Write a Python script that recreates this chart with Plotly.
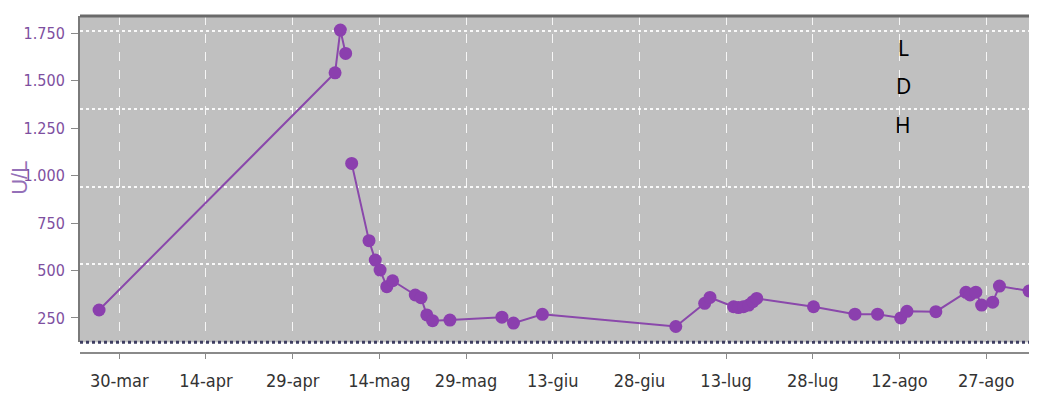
import plotly.graph_objects as go

# ---- data ----
ldh_dates = [
    "2019-03-26 12:00",
    "2019-05-06 08:00", "2019-05-07 06:00", "2019-05-08 04:00",
    "2019-05-09 05:00", "2019-05-12 05:00", "2019-05-13 07:00", "2019-05-14 03:00",
    "2019-05-15 07:00", "2019-05-16 07:00", "2019-05-20 05:00", "2019-05-21 05:00",
    "2019-05-22 05:00", "2019-05-23 05:00", "2019-05-26 05:00", "2019-06-04 05:00",
    "2019-06-06 05:00", "2019-06-11 05:00", "2019-07-04 07:00", "2019-07-09 07:00",
    "2019-07-10 05:00", "2019-07-14 07:00", "2019-07-15 03:00", "2019-07-16 00:00",
    "2019-07-16 22:00", "2019-07-17 15:00", "2019-07-18 07:00", "2019-07-28 03:00",
    "2019-08-04 07:00", "2019-08-08 05:00", "2019-08-12 05:00", "2019-08-13 07:00",
    "2019-08-18 07:00", "2019-08-23 12:00", "2019-08-24 05:00", "2019-08-25 05:00",
    "2019-08-26 05:00", "2019-08-28 03:00", "2019-08-29 07:00", "2019-09-03 10:00",
]
ldh_values = [
    292,
    1541, 1766, 1643,
    1064, 657, 555, 502,
    415, 446, 371, 357,
    266, 236, 239, 254,
    223, 269, 205, 327,
    358, 309, 305, 309,
    318, 336, 353, 309,
    270, 270, 250, 285,
    283, 385, 371, 386,
    318, 333, 418, 392,
]
line_breaks_after = ["2019-05-08 04:00"]

tick_dates = ["2019-03-30", "2019-04-14", "2019-04-29", "2019-05-14", "2019-05-29",
              "2019-06-13", "2019-06-28", "2019-07-13", "2019-07-28", "2019-08-12",
              "2019-08-27"]
tick_labels = ["30-mar", "14-apr", "29-apr", "14-mag", "29-mag", "13-giu",
               "28-giu", "13-lug", "28-lug", "12-ago", "27-ago"]
y_tick_vals = [250, 500, 750, 1000, 1250, 1500, 1750]
y_tick_text = ["250", "500", "750", "1.000", "1.250", "1.500", "1.750"]
y_grid_vals = [532, 942, 1352, 1762]
y_title = "U/L"
legend_letters = ["L", "D", "H"]

# ---- build ----
xs, ys = [], []
for d, v in zip(ldh_dates, ldh_values):
    xs.append(d)
    ys.append(v)
    if d in line_breaks_after:
        xs.append(None)
        ys.append(None)

purple = "#8b3fae"
narrow = "Liberation Sans Narrow, Arial Narrow, DejaVu Sans Condensed, sans-serif"

fig = go.Figure(go.Scatter(
    x=xs, y=ys, mode="lines+markers", connectgaps=False,
    line=dict(color="#8a48ab", width=2),
    marker=dict(size=13, color=purple),
    hoverinfo="x+y",
))

# page body has an 8px margin, so the figure is sized to fit the 1037x399 window
fig.update_layout(
    width=1029, height=391,
    margin=dict(l=72, r=0, t=8, b=46, pad=0, autoexpand=False),
    paper_bgcolor="white",
    plot_bgcolor="#c0c0c0",
    showlegend=False,
    xaxis=dict(
        type="date",
        range=["2019-03-23 04:48", "2019-09-04 19:00"],
        tickmode="array", tickvals=tick_dates, ticktext=tick_labels,
        anchor="free", position=0, automargin=False,
        showline=True, linecolor="#8a8a8a", linewidth=2,
        ticks="outside", ticklen=5, tickcolor="#8a8a8a", tickwidth=1,
        showgrid=True, gridcolor="rgba(255,255,255,0.85)", griddash="dash", gridwidth=1,
        zeroline=False,
        tickfont=dict(family=narrow, size=18, color="#333333"),
        ticklabelstandoff=6,
    ),
    yaxis=dict(
        domain=[0.0318, 1], automargin=False,
        range=[122, 1840],
        tickmode="array", tickvals=y_tick_vals, ticktext=y_tick_text,
        showline=True, linecolor="#7a7a7a", linewidth=2,
        ticks="outside", ticklen=7, tickcolor="#8a8a8a", tickwidth=1,
        showgrid=False, zeroline=False,
        minor=dict(tickmode="array", tickvals=y_grid_vals, showgrid=True,
                   gridcolor="rgba(255,255,255,0.9)", griddash="dot", gridwidth=2,
                   ticks=""),
        tickfont=dict(family=narrow, size=16, color="#7e4fa0"),
        ticklabelstandoff=3,
    ),
    shapes=[
        dict(type="line", xref="paper", x0=0, x1=1, yref="y domain", y0=1, y1=1,
             line=dict(color="#6a6a6a", width=3), layer="above"),
        dict(type="line", xref="paper", x0=0, x1=1, yref="y domain", y0=0, y1=0,
             line=dict(color="#3e3e62", width=3, dash="dot"), layer="above"),
    ],
)

annotations = [dict(
    text=y_title, xref="paper", yref="paper", x=-0.064, y=0.519,
    xanchor="center", yanchor="middle", textangle=-90, showarrow=False,
    font=dict(family="Liberation Sans, Arial, sans-serif", size=22, color="#9470b8"),
)]
for i, letter in enumerate(legend_letters):
    annotations.append(dict(
        text=letter, xref="paper", yref="paper", x=0.86, y=0.9065 - i * 0.115,
        xanchor="center", yanchor="middle", showarrow=False,
        font=dict(family="Noto Sans, Open Sans, sans-serif", size=21, color="black"),
    ))
fig.update_layout(annotations=annotations)

fig.write_html("out.html")
